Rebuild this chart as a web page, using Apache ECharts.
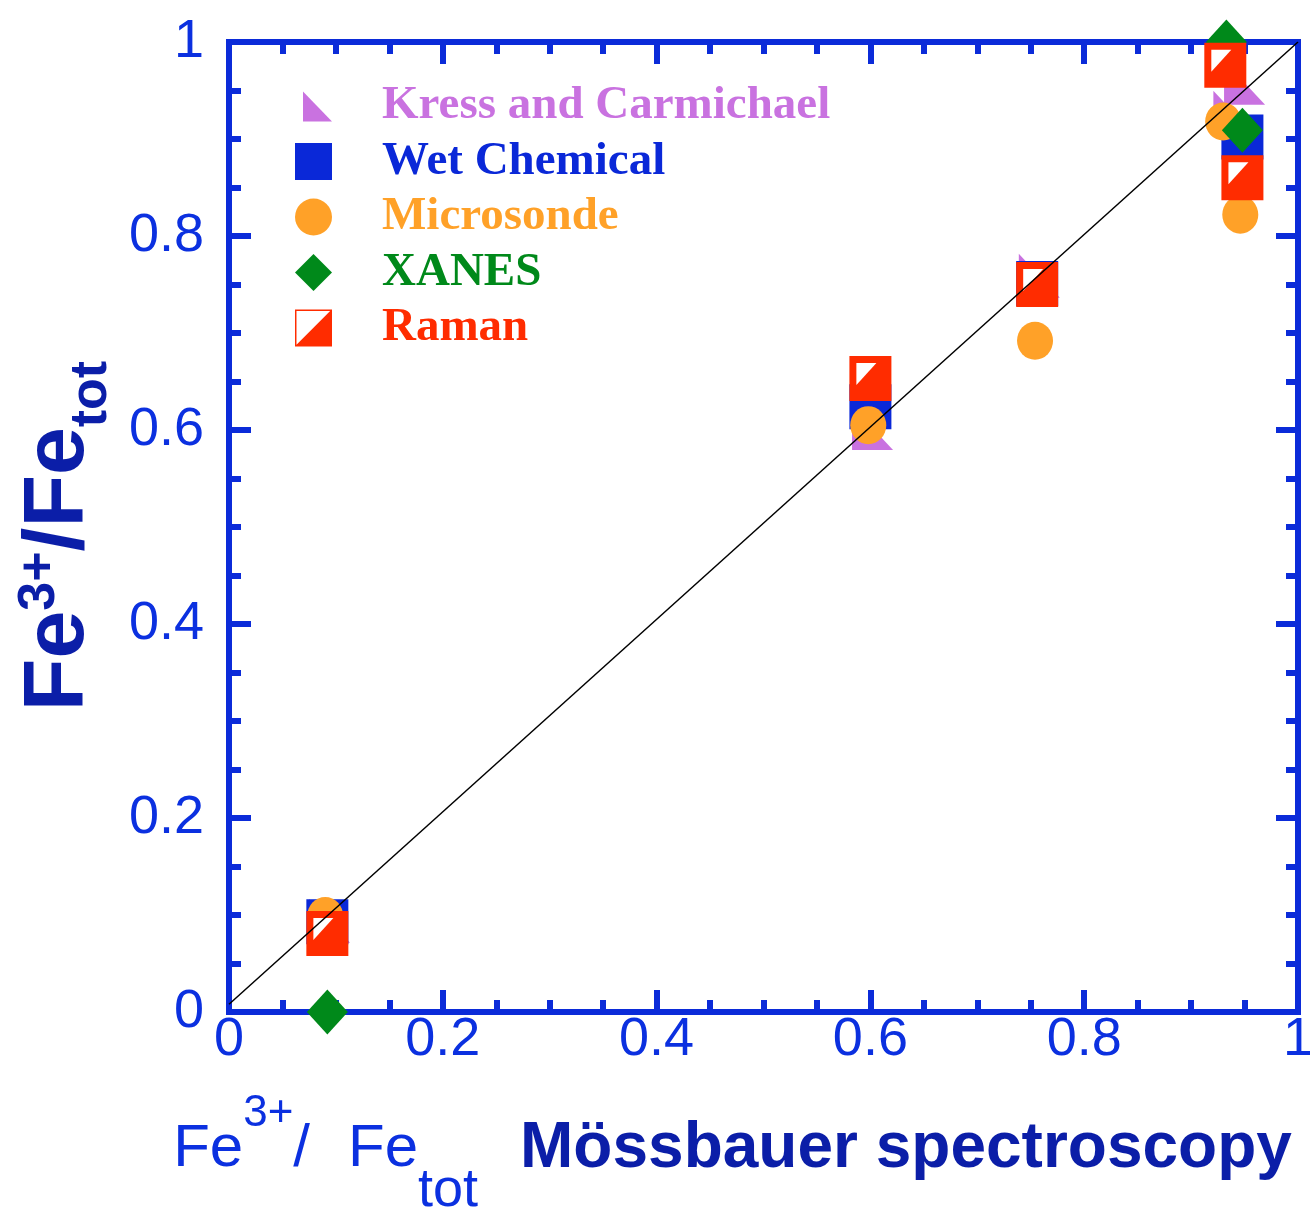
<!DOCTYPE html>
<html>
<head>
<meta charset="utf-8">
<script src="https://cdn.jsdelivr.net/npm/echarts@6/dist/echarts.min.js"></script>
<style>
  html, body { margin: 0; padding: 0; background: #ffffff; }
  #chart { width: 1310px; height: 1215px; }
</style>
</head>
<body>
<div id="chart"></div>
<script>
// Fe3+/Fetot measured by several methods against the Mössbauer value
const tickLabels = ['0', '0.2', '0.4', '0.6', '0.8', '1'];

const kressX = [0.094, 0.602, 0.758, 0.940, 0.950];
const kressY = [0.094, 0.602, 0.759, 0.927, 0.958];

const wetX = [0.092, 0.600, 0.756, 0.948];
const wetY = [0.093, 0.624, 0.751, 0.902];

const microX = [0.090, 0.598, 0.754, 0.930, 0.946];
const microY = [0.099, 0.605, 0.692, 0.918, 0.822];

const xanesX = [0.092, 0.933, 0.948];
const xanesY = [0.000, 1.000, 0.909];

const ramanX = [0.092, 0.600, 0.756, 0.932, 0.948];
const ramanY = [0.081, 0.653, 0.750, 0.976, 0.860];

// 1:1 reference line
const refX = [0, 1];
const refY = [0.008, 1];

const FRAME = '#0b2bd9';
const LABEL = '#0b30e0';
const DARK = '#0b1ea8';
const C_KRESS = '#c972e0';
const C_WET = '#0a28d8';
const C_MICRO = '#ffa128';
const C_XANES = '#00891a';
const C_RAMAN = '#ff2c00';

const TRI = 'path://M0,0 L0,100 L100,100 Z';
const TRI_LEGEND = 'path://M0,0 M0,37 M37,37 M8,4 L8,34 L37,34 Z';
const ELLIPSE = 'path://M50,0 A50,50 0 1,1 50,100 A50,50 0 1,1 50,0 Z';
const RAMAN_LEGEND = 'path://M0,0 L100,0 L100,100 L0,100 Z M4,4 L4,95 L95,4 Z';
const RAMAN_INNER = 'path://M0,0 L100,0 L0,100 Z';

const pairs = (xs, ys) => xs.map((x, i) => [x, ys[i]]);

function frameAxis(extra) {
  return Object.assign({
    type: 'value', min: 0, max: 1, interval: 0.2,
    axisLine: { show: true, onZero: false, lineStyle: { color: FRAME, width: 6, cap: 'square' } },
    axisTick: { show: true, inside: true, length: 22, lineStyle: { color: FRAME, width: 6 } },
    minorTick: { show: true, splitNumber: 4, length: 12, lineStyle: { color: FRAME, width: 6 } },
    splitLine: { show: false },
    minorSplitLine: { show: false },
    axisLabel: { show: false }
  }, extra);
}

const tickFmt = v => tickLabels[Math.round(v / 0.2)];
const labelFont = { fontFamily: 'Liberation Sans', fontSize: 54, color: LABEL };
const sans = 'Liberation Sans';

const chart = echarts.init(document.getElementById('chart'), null, { renderer: 'canvas' });

chart.setOption({
  animation: false,
  backgroundColor: '#ffffff',
  grid: { left: 229, right: 12, top: 42, bottom: 203, containLabel: false, outerBoundsMode: 'none' },
  xAxis: [
    frameAxis({
      position: 'bottom',
      axisLabel: Object.assign({ show: true, margin: 1, formatter: tickFmt }, labelFont),
      name: '{a|Fe}{s|3+}{a|/}{g|Fe}{t|tot}{b|Mössbauer spectroscopy}',
      nameLocation: 'middle',
      nameGap: 105,
      nameMoveOverlap: false,
      nameTextStyle: {
        rich: {
          a: { fontFamily: sans, fontSize: 60, lineHeight: 60, color: LABEL, verticalAlign: 'middle' },
          g: { fontFamily: sans, fontSize: 60, lineHeight: 60, color: LABEL, verticalAlign: 'middle', padding: [0, 0, 0, 38] },
          s: { fontFamily: sans, fontSize: 44, lineHeight: 44, color: LABEL, verticalAlign: 'middle', padding: [0, 0, 70, 0] },
          t: { fontFamily: sans, fontSize: 54, lineHeight: 54, color: LABEL, verticalAlign: 'middle', padding: [84, 0, 0, 0] },
          b: { fontFamily: sans, fontWeight: 'bold', fontSize: 64, lineHeight: 64, color: DARK, verticalAlign: 'middle', padding: [0, 62, 0, 42] }
        }
      }
    }),
    frameAxis({ position: 'top' })
  ],
  yAxis: [
    frameAxis({
      position: 'left',
      axisLabel: Object.assign({ show: true, margin: 25, padding: [0, 0, 20, 0], formatter: tickFmt }, labelFont),
      name: '{a|Fe}{s|3+}{a|/Fe}{t|tot}',
      nameLocation: 'middle',
      nameRotate: 90,
      nameGap: 119,
      nameTextStyle: {
        rich: {
          a: { fontFamily: sans, fontWeight: 'bold', fontSize: 86, lineHeight: 86, color: DARK, verticalAlign: 'middle' },
          s: { fontFamily: sans, fontWeight: 'bold', fontSize: 52, lineHeight: 52, color: DARK, verticalAlign: 'middle', padding: [0, 0, 38, 0] },
          t: { fontFamily: sans, fontWeight: 'bold', fontSize: 52, lineHeight: 52, color: DARK, verticalAlign: 'middle', padding: [66, 18, 0, 0] }
        }
      }
    }),
    frameAxis({ position: 'right' })
  ],
  legend: {
    orient: 'vertical',
    left: 290,
    top: 77.5,
    itemWidth: 37,
    itemHeight: 37,
    itemGap: 8.5,
    symbolKeepAspect: false,
    textStyle: { fontFamily: 'Liberation Serif', fontWeight: 'bold', fontSize: 47, padding: [0, 0, 0, 45] },
    data: [
      { name: 'Kress and Carmichael', icon: TRI_LEGEND, textStyle: { color: C_KRESS } },
      { name: 'Wet Chemical', icon: 'rect', textStyle: { color: C_WET } },
      { name: 'Microsonde', icon: ELLIPSE, textStyle: { color: C_MICRO } },
      { name: 'XANES', icon: 'diamond', textStyle: { color: C_XANES } },
      { name: 'Raman', icon: RAMAN_LEGEND, textStyle: { color: C_RAMAN } }
    ]
  },
  series: [
    {
      name: 'Kress and Carmichael', type: 'scatter', clip: false,
      symbol: TRI, symbolSize: [41, 44],
      itemStyle: { color: C_KRESS, opacity: 1 },
      data: pairs(kressX, kressY)
    },
    {
      name: 'Wet Chemical', type: 'scatter', clip: false,
      symbol: 'rect', symbolSize: [42, 45],
      itemStyle: { color: C_WET, opacity: 1 },
      data: pairs(wetX, wetY)
    },
    {
      name: 'Microsonde', type: 'scatter', clip: false,
      symbol: ELLIPSE, symbolSize: [36, 38],
      itemStyle: { color: C_MICRO, opacity: 1 },
      data: pairs(microX, microY)
    },
    {
      name: 'XANES', type: 'scatter', clip: false,
      symbol: 'diamond', symbolSize: [41, 45],
      itemStyle: { color: C_XANES, opacity: 1 },
      data: pairs(xanesX, xanesY)
    },
    {
      name: 'Raman', type: 'scatter', clip: false,
      symbol: 'rect', symbolSize: [42, 45],
      itemStyle: { color: C_RAMAN, opacity: 1 },
      data: pairs(ramanX, ramanY)
    },
    {
      // white upper-left half inside each Raman square
      name: 'Raman', type: 'scatter', clip: false,
      symbol: RAMAN_INNER, symbolSize: [20, 22], symbolOffset: [-4, -4.5],
      itemStyle: { color: '#ffffff', opacity: 1 },
      data: pairs(ramanX, ramanY)
    },
    {
      type: 'line', silent: true, symbol: 'none', z: 5,
      lineStyle: { color: '#000000', width: 1.5 },
      data: pairs(refX, refY)
    }
  ]
});
</script>
</body>
</html>
